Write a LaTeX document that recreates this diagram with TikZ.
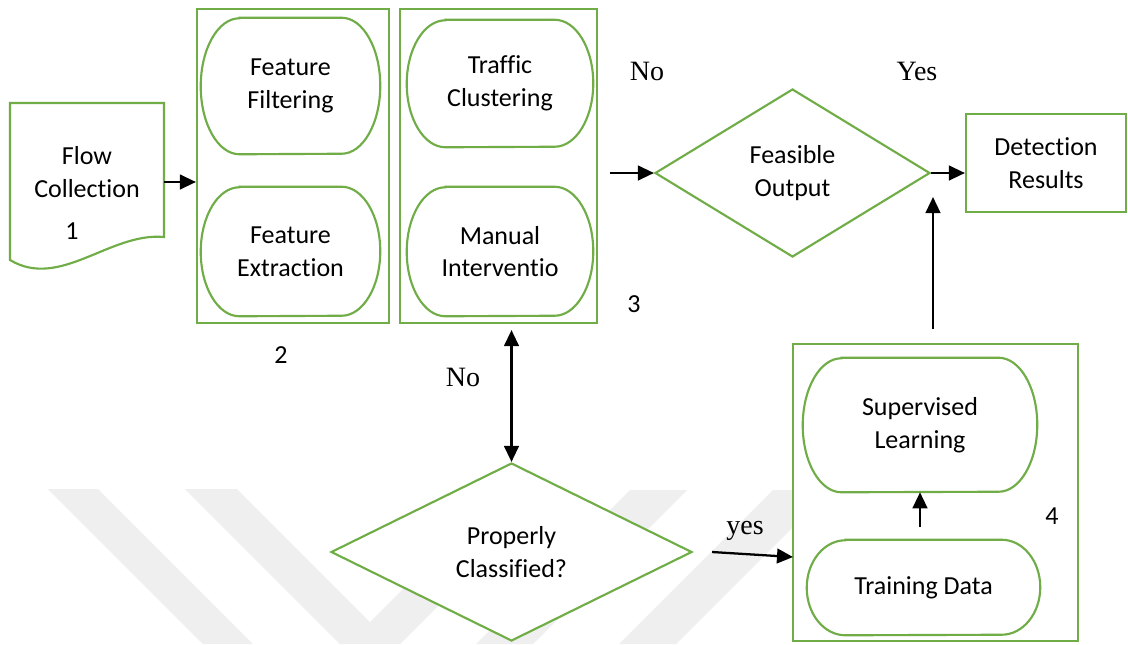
\documentclass[tikz,border=0pt]{standalone}
\usepackage{fontspec}
\setmainfont{Carlito}[Ligatures=NoCommon]
\newfontfamily\tmsfont{Liberation Serif}
\usetikzlibrary{shapes.geometric, arrows.meta}
\definecolor{boxgreen}{HTML}{70AD47}
\definecolor{wmgray}{HTML}{EFEFEF}

% rounded process step: name, x, y, width, height, text
\newcommand\stadium[6]{%
  \node[stadbox, minimum width=#4*0.75pt, minimum height=#5*0.75pt] (#1) at (#2,#3) {#6};
  \draw[gline] ([xshift=29pt]#1.north west) -- ([xshift=-29pt]#1.north east)
    arc[start angle=90, end angle=-90, x radius=29pt, y radius=#5*0.375pt]
    -- ([xshift=29pt]#1.south west)
    arc[start angle=270, end angle=90, x radius=29pt, y radius=#5*0.375pt] -- cycle;
}

\begin{document}
\begin{tikzpicture}[x=0.75pt, y=-0.75pt,
  gline/.style={draw=boxgreen, line width=1.6pt},
  lbl/.style={font=\fontsize{19.5}{24.4}\selectfont, align=center, text=black},
  panel/.style={gline, fill=white, rectangle, inner sep=0pt, lbl},
  stadbox/.style={inner sep=0pt, lbl},
  decision/.style={gline, fill=white, diamond, inner sep=0pt, lbl},
  arr/.style={line width=1.7pt, -{Triangle[length=12pt,width=11pt]}},
  darr/.style={line width=1.7pt, {Triangle[length=12pt,width=11pt]}-{Triangle[length=12pt,width=11pt]}},
  answer/.style={font=\tmsfont\fontsize{21}{24}\selectfont},
]
\useasboundingbox (0,0) rectangle (1128,644);
\fill[white] (0,0) rectangle (1128,644);

% faint background chevrons
\fill[wmgray] (48,489) -- (98,489) -- (253,644) -- (203,644) -- cycle;
\fill[wmgray] (185,489) -- (237,489) -- (370,622) -- (503,489) -- (555,489)
  -- (400,644) -- (340,644) -- cycle;
\fill[wmgray] (630,490) -- (687,490) -- (533,644) -- (476,644) -- cycle;
\fill[wmgray] (773,490) -- (830,490) -- (676,644) -- (619,644) -- cycle;

% step 1: flow collection (document shape)
\draw[gline, fill=white] (10,103) -- (164,103) -- (164,237)
  .. controls (110,232) and (60,290) .. (10,260) -- cycle;
\node[lbl, minimum width=115.5pt, inner sep=0pt] (flow) at (87,172) {Flow\\Collection};
\node[lbl] (n1) at (72,231) {1};

% step 2: features
\node[panel, minimum width=144pt, minimum height=235.5pt] (box2) at (293,166) {};
\stadium{ff}{290.5}{86}{179}{136}{Feature\\Filtering}
\stadium{fe}{290.5}{251.5}{179}{129}{Feature\\Extraction}
\node[lbl] (n2) at (281,355) {2};

% step 3: clustering
\node[panel, minimum width=147.75pt, minimum height=235.5pt] (box3) at (498.5,166) {};
\stadium{tc}{500}{83.5}{186}{127}{Traffic\\Clustering}
\stadium{mi}{500}{251.5}{186}{129}{Manual\\Interventio}
\node[lbl] (n3) at (634,304) {3};

% decisions and result
\node[decision, minimum width=206.25pt, minimum height=126pt] (feas) at (792.5,173) {Feasible\\Output};
\node[panel, minimum width=120pt, minimum height=73.5pt] (det) at (1046,163) {Detection\\Results};
\node[decision, minimum width=270.75pt, minimum height=133.5pt] (pc) at (511.5,552) {Properly\\Classified?};

% step 4: supervised learning
\node[panel, minimum width=213.75pt, minimum height=222.75pt] (box4) at (935.5,492.5) {};
\stadium{sl}{920}{425}{234}{134}{Supervised\\Learning}
\stadium{td}{923.5}{587.5}{233}{95}{Training Data}
\fill[white] (1037,487) rectangle (1077.3,541);
\node[lbl] (n4) at (1052,516) {4};

% answers
\node[answer] (no1) at (647,71) {No};
\node[answer] (yes1) at (917,71) {Yes};
\node[answer] (no2) at (463,377) {No};
\node[answer] (yes2) at (745,531) {yes};

% connectors
\coordinate (fcout) at (164,182);
\coordinate (lift) at (933,197);
\coordinate (yesin) at (793,557);
\draw[arr] (fcout) -- (fcout -| box2.west);
\draw[arr] (feas.west) ++(-44,0) -- (feas.west);
\draw[arr] (feas.east) -- (feas.east -| det.west);
\draw[arr] (lift |- box4.north) ++(0,-14) -- (lift);
\draw[arr] (sl.south |- td.north) ++(0,-13) -- (sl.south);
\draw[darr] (pc.north |- box3.south) ++(0,6) -- (pc.north);
\draw[arr] (pc.east) ++(19,0) -- (yesin);
\end{tikzpicture}
\end{document}
